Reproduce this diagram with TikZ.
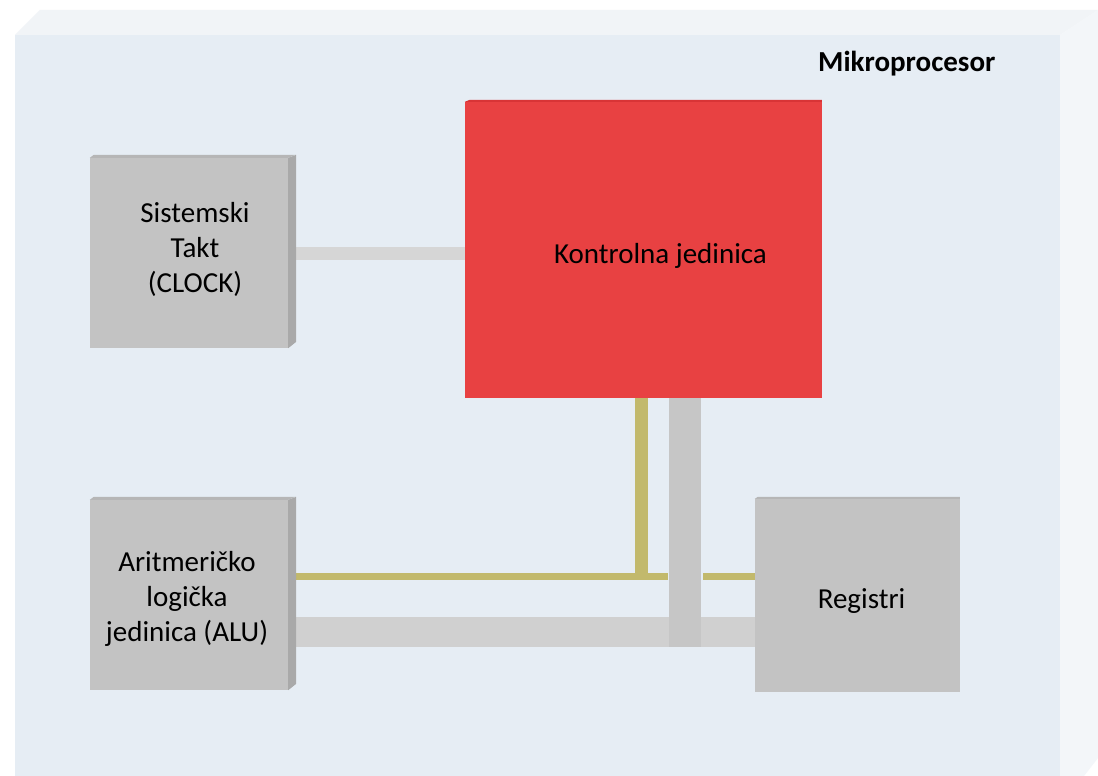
\documentclass[tikz,border=0pt]{standalone}
\usepackage{fontspec}
\setmainfont{Carlito}
\definecolor{boardfront}{HTML}{E6EDF4}
\definecolor{boardtop}{HTML}{F1F4F7}
\definecolor{boardside}{HTML}{F3F6F9}
\definecolor{unitgray}{HTML}{C3C3C3}
\definecolor{unitside}{HTML}{A9A9A9}
\definecolor{unittop}{HTML}{B6B6B6}
\definecolor{ctrlred}{HTML}{E84142}
\definecolor{ctrltop}{HTML}{D83436}
\definecolor{busgray}{HTML}{D0D0D0}
\definecolor{busvert}{HTML}{C6C6C6}
\definecolor{clkbus}{HTML}{D6D6D6}
\definecolor{busyellow}{HTML}{C2B96C}
\begin{document}
\begin{tikzpicture}[x=1pt,y=-1pt,
  unittext/.style={font=\fontsize{29}{35}\selectfont},
  unit/.style={rectangle, fill=unitgray, inner sep=0pt,
    minimum width=198, minimum height=190},
  ctrlunit/.style={rectangle, fill=ctrlred, inner sep=0pt,
    minimum width=357, minimum height=296},
  graybus/.style={draw=busgray, line width=#1},
  yellowbus/.style={draw=busyellow, line width=#1}]
\useasboundingbox (0,0) rectangle (1098,776);

% the processor board, seen slightly from above and from the right
\fill[white] (0,0) rectangle (1098,776);
\fill[boardtop] (15,35) -- (40,10) -- (1098,10) -- (1060,35) -- cycle;
\fill[boardside] (1060,35) -- (1098,10) -- (1098,758) -- (1084,776) -- (1060,776) -- cycle;
\fill[boardfront] (15,35) rectangle (1060,776);

\node[font=\bfseries\fontsize{29}{35}\selectfont, anchor=base west, inner sep=0pt]
  (title) at (818,71) {Mikroprocesor};

% functional units
\node[unit] (clk) at (189,253) {};
\node[unit] (alu) at (189,595) {};
\node[unit, minimum width=205, minimum height=193] (reg) at (857.5,595.5) {};
\node[ctrlunit] (ctrl) at (643.5,250) {};

% bus junction points
\coordinate (ybus) at ([yshift=19]alu.east);       % yellow bus level
\coordinate (gbus) at ([yshift=-37]alu.east);      % wide gray bus level
\coordinate (ydrop) at ([xshift=-2.5]ctrl.south);  % yellow line leaving the control unit
\coordinate (gdrop) at ([xshift=41.5]ctrl.south);  % gray bus leaving the control unit
\coordinate (ygapl) at ([xshift=-17]gdrop |- ybus);
\coordinate (ygapr) at ([xshift=18]gdrop |- ybus);

% buses
\draw[draw=clkbus, line width=13] (clk.east) -- (clk.east -| ctrl.west);
\draw[yellowbus=7] (alu.east |- ybus) -- (ygapl);
\draw[yellowbus=7] (ygapr) -- (ygapr -| reg.west);
\draw[yellowbus=13] (ydrop) -- ([yshift=-3.5]ydrop |- ybus);
\draw[graybus=30] (gbus) -- (gbus -| reg.west);
\draw[draw=busvert, line width=32] (gdrop) -- ([yshift=-15]gdrop |- gbus);

% units redrawn on top of the bus ends, with their shaded faces
\foreach \u in {clk, alu} {
  \fill[unitside] (\u.north east) -- ++(8,-3) -- ++(0,187) -- (\u.south east) -- cycle;
  \fill[unittop] (\u.north west) -- ++(4,-3) -- ++(202,0) -- (\u.north east) -- cycle;
  \fill[unitgray] (\u.north west) rectangle (\u.south east);
}
\fill[unittop] (reg.north west) -- ++(3,-2) -- ++(202,0) -- ++(0,2) -- cycle;
\fill[unitgray] (reg.north west) rectangle (reg.south east);
\fill[ctrltop] (ctrl.north west) -- ++(5,-2) -- ++(352,0) -- ++(0,2) -- cycle;
\fill[ctrlred] (ctrl.north west) rectangle (ctrl.south east);

% labels
\node[unittext, align=center] (clklabel) at ([xshift=6,yshift=4]clk.center)
  {Sistemski\\Takt\\(CLOCK)};
\node[unittext, align=center] (alulabel) at ([xshift=-2,yshift=-4]alu.center)
  {Aritmeričko\\logička\\jedinica (ALU)};
\node[unittext] (reglabel) at ([xshift=4,yshift=-6]reg.center) {Registri};
\node[unittext] (ctrllabel) at ([xshift=17,yshift=-6]ctrl.center) {Kontrolna jedinica};
\end{tikzpicture}
\end{document}
